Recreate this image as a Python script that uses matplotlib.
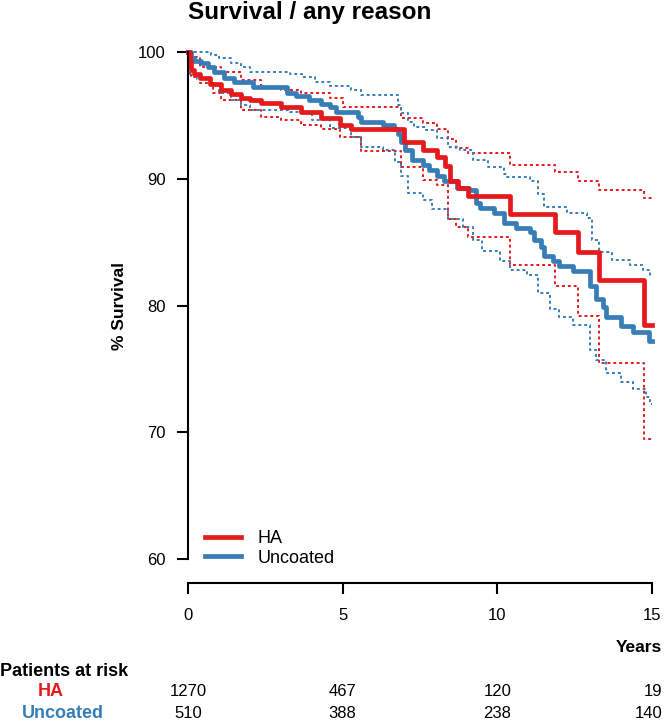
import numpy as np
import matplotlib
matplotlib.use("Agg")
import matplotlib.pyplot as plt
import matplotlib.transforms as mtransforms

plt.rcParams['font.family'] = ['Liberation Sans', 'DejaVu Sans']

RED = '#E41A1C'
BLUE = '#377EB8'

# Kaplan-Meier estimates (step points, years / % survival)
ha_t = [0, 0.05, 0.1, 0.2, 0.4, 0.7, 1.06, 1.4, 1.7, 2.0, 2.35, 3.0, 3.65, 4.3, 4.9, 5.26,
        6.97, 7.6, 8.06, 8.3, 8.48, 8.74, 9.06, 10.4, 11.87, 12.6, 13.3, 14.74, 15.0]
ha_s = [100, 99.2, 98.6, 98.3, 97.95, 97.5, 97.0, 96.7, 96.4, 96.2, 96.0, 95.7, 95.3, 94.8, 94.25, 93.9,
        92.9, 92.3, 91.7, 91.0, 89.8, 89.3, 88.6, 87.2, 85.8, 84.2, 82.0, 78.5, 78.5]
ha_hi_t = [0, 0.1, 0.4, 1.06, 1.7, 2.35, 3.0, 3.65, 4.6, 5.0, 6.87, 7.6, 8.06, 8.4, 8.65, 9.06,
           10.4, 11.87, 12.6, 13.3, 14.74, 15.0]
ha_hi_s = [100, 99.6, 98.8, 98.4, 97.8, 97.2, 97.0, 96.8, 96.4, 95.7, 94.8, 94.4, 93.9, 93.1, 92.4, 92.0,
           91.1, 90.5, 89.8, 89.1, 88.5, 88.5]
ha_lo_t = [0, 0.1, 0.4, 0.8, 1.06, 1.7, 2.35, 3.0, 3.65, 4.3, 4.9, 5.6, 6.87, 7.6, 8.06, 8.4, 8.65,
           9.06, 10.4, 11.87, 12.6, 13.3, 14.74, 15.0]
ha_lo_s = [99.0, 98.0, 97.55, 96.8, 96.2, 95.4, 94.9, 94.6, 94.25, 93.9, 93.3, 92.2, 90.9, 89.9, 89.5, 86.8, 86.2,
           85.4, 83.2, 81.5, 79.2, 75.5, 69.5, 69.5]

unc_t = [0, 0.1, 0.2, 0.42, 0.65, 0.85, 1.17, 1.5, 2.1, 3.2, 3.5, 3.9, 4.3, 4.6, 4.8, 5.5, 5.6,
         6.3, 6.65, 6.8, 6.9, 7.0, 7.25, 7.6, 7.8, 8.06, 8.26, 8.7, 9.1, 9.3, 9.45, 9.9, 10.2,
         10.6, 11.06, 11.2, 11.4, 11.5, 11.8, 12.0, 12.45, 13.0, 13.2, 13.4, 13.5, 14.0, 14.4, 14.9, 15.0]
unc_s = [100, 99.5, 99.3, 99.1, 98.8, 98.4, 97.95, 97.6, 97.2, 96.8, 96.5, 96.2, 95.9, 95.7, 95.3, 94.9, 94.5,
         94.25, 93.9, 93.5, 92.9, 92.3, 91.5, 91.1, 90.7, 90.2, 89.8, 89.3, 89.1, 88.1, 87.7, 87.3, 86.5,
         86.1, 85.8, 85.2, 84.6, 83.9, 83.5, 83.1, 82.7, 81.5, 80.5, 79.9, 79.1, 78.35, 77.9, 77.2, 77.2]
unc_hi_t = [0, 0.74, 1.0, 1.4, 1.7, 2.0, 3.3, 3.7, 4.1, 4.6, 5.26, 5.6, 6.8, 6.9, 7.1, 7.3, 7.7,
            8.06, 8.4, 8.8, 9.2, 9.7, 10.2, 10.3, 11.06, 11.3, 11.5, 12.25, 12.9, 13.06, 13.3, 13.7,
            14.3, 14.7, 14.95, 15.0]
unc_hi_s = [100, 99.8, 99.5, 99.1, 98.8, 98.4, 98.3, 98.0, 97.6, 97.3, 97.0, 96.6, 95.8, 95.2, 94.5, 94.1, 93.85,
            93.2, 92.5, 92.3, 91.5, 90.9, 90.4, 90.1, 89.8, 88.8, 87.8, 87.3, 86.9, 85.2, 84.2, 83.6,
            83.2, 82.8, 82.3, 82.3]
unc_lo_t = [0, 0.05, 0.3, 0.74, 1.0, 1.4, 1.7, 2.0, 3.3, 4.0, 4.6, 5.26, 5.6, 6.3, 6.7, 6.9, 7.1,
            7.6, 7.9, 8.4, 8.9, 9.2, 9.5, 10.1, 10.4, 10.97, 11.3, 11.7, 12.0, 12.45, 13.0, 13.2,
            13.5, 14.0, 14.4, 14.8, 14.95, 15.0]
unc_lo_s = [99.2, 98.3, 97.9, 97.4, 96.8, 96.2, 95.8, 95.4, 95.3, 94.6, 94.0, 93.3, 92.5, 92.3, 91.3, 90.2, 88.9,
            88.3, 87.6, 86.8, 86.2, 85.2, 84.3, 83.5, 82.8, 82.4, 81.0, 79.7, 79.1, 78.5, 76.5, 75.7,
            74.7, 74.0, 73.4, 72.8, 72.2, 72.2]

# patients at risk
risk_years = [0, 5, 10, 15]
risk_ha = [1270, 467, 120, 19]
risk_unc = [510, 388, 238, 140]

W, H = 668, 721
fig = plt.figure(figsize=(W / 100, H / 100), dpi=100)
ax = fig.add_axes([188 / W, 1 - 559 / H, 464 / W, (559 - 52) / H])

dots = (0, (1.5, 1.5))
ax.step(ha_hi_t, ha_hi_s, where='post', color=RED, lw=1.4, ls=dots, clip_on=False)
ax.step(ha_lo_t, ha_lo_s, where='post', color=RED, lw=1.4, ls=dots, clip_on=False)
ax.step(unc_hi_t, unc_hi_s, where='post', color=BLUE, lw=1.4, ls=dots, clip_on=False)
ax.step(unc_lo_t, unc_lo_s, where='post', color=BLUE, lw=1.4, ls=dots, clip_on=False)
ax.step(unc_t, unc_s, where='post', color=BLUE, lw=3.4, clip_on=False, label='Uncoated')
ax.step(ha_t, ha_s, where='post', color=RED, lw=3.4, clip_on=False, label='HA')

ax.set_xlim(0, 15)
ax.set_ylim(60, 100)
ax.set_xticks([0, 5, 10, 15])
ax.set_yticks([60, 70, 80, 90, 100])
for s in ['top', 'right']:
    ax.spines[s].set_visible(False)
ax.spines['bottom'].set_position(('outward', 17))
ax.spines['bottom'].set_bounds(0, 15)
ax.spines['left'].set_bounds(60, 100)
for s in ['bottom', 'left']:
    ax.spines[s].set_linewidth(1.5)
ax.tick_params(axis='both', length=8, width=1.5, labelsize=12, pad=8)
ax.tick_params(axis='x', pad=10)
ax.set_ylabel('% Survival', fontsize=12.5, fontweight='bold', labelpad=8)

h, l = ax.get_legend_handles_labels()
ax.legend(h[::-1], l[::-1], loc='lower left', frameon=False, fontsize=13,
          handlelength=2.0, handletextpad=0.9, borderaxespad=0.3, labelspacing=0.15,
          bbox_to_anchor=(0.01, -0.04))

fig.text(188 / W, 1 - 13 / H, 'Survival / any reason', fontsize=17.5, fontweight='bold',
         ha='left', va='center')
fig.text(662 / W, 1 - 648 / H, 'Years', fontsize=12.5, fontweight='bold', ha='right', va='center')
fig.text(0.0, 1 - 671 / H, 'Patients at risk', fontsize=13, fontweight='bold', ha='left', va='center')

tr = mtransforms.blended_transform_factory(ax.transData, fig.transFigure)
fig.text(51 / W, 1 - 692 / H, 'HA', color=RED, fontsize=13, fontweight='bold', ha='center', va='center')
fig.text(63 / W, 1 - 713 / H, 'Uncoated', color=BLUE, fontsize=13, fontweight='bold',
         ha='center', va='center')
for yr, a, b in zip(risk_years, risk_ha, risk_unc):
    ha_align = 'right' if yr == 15 else 'center'
    xo = 0.33 if yr == 15 else 0
    ax.text(yr + xo, 1 - 692 / H, str(a), transform=tr, fontsize=12, ha=ha_align, va='center')
    ax.text(yr + xo, 1 - 713 / H, str(b), transform=tr, fontsize=12, ha=ha_align, va='center')

fig.savefig('out.png', dpi=100)
